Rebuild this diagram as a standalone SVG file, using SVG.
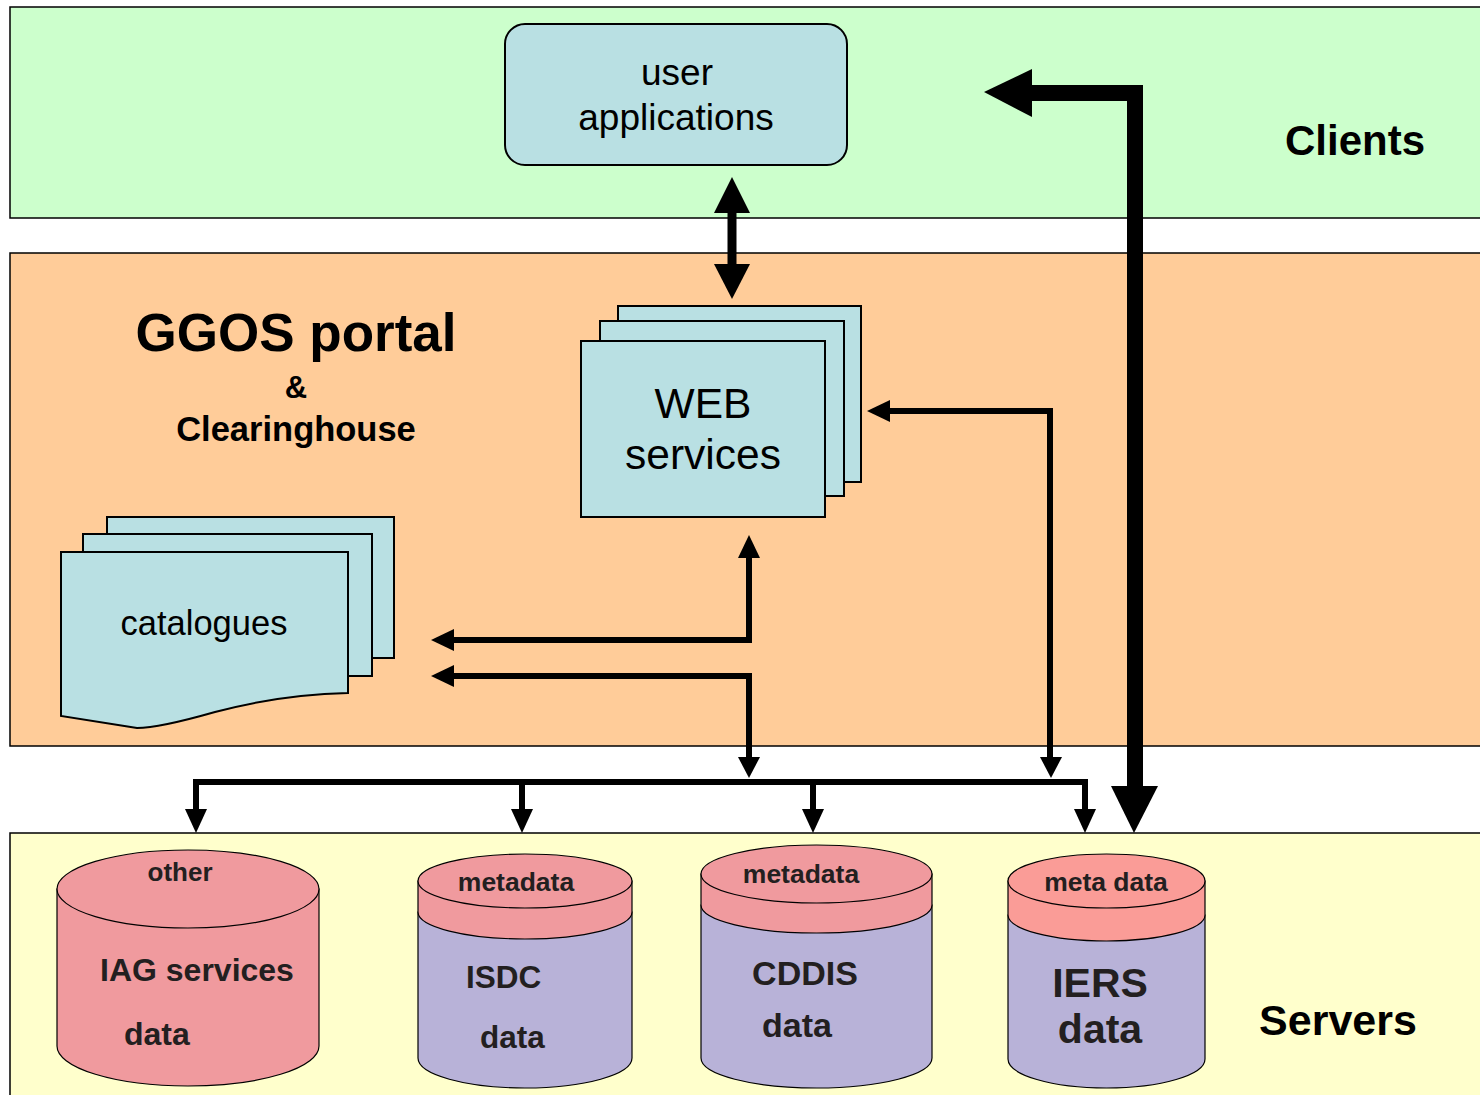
<svg xmlns="http://www.w3.org/2000/svg" width="1480" height="1095" viewBox="0 0 1480 1095">
<style>
.band{stroke:#000;stroke-width:1.5}
.box{fill:#B9E0E3;stroke:#000;stroke-width:2}
.t{font-family:"Liberation Sans",Arial,sans-serif;fill:#000;text-anchor:middle}
.b{font-weight:bold}
.cyl{stroke:#000;stroke-width:1.2}
.pink{fill:#F09A9E}
.salmon{fill:#FA9C97}
.purp{fill:#B8B2D8}
.ln{fill:none;stroke:#000;stroke-width:6}
.ah{fill:#000}
.ct{font-family:"Liberation Sans",Arial,sans-serif;font-weight:bold;fill:#231F20}
</style>
<rect width="1480" height="1095" fill="#fff"/>
<g id="bands">
<rect class="band" x="10" y="7" width="1480" height="211" fill="#CCFFCC"/>
<rect class="band" x="10" y="253" width="1480" height="493" fill="#FFCC99"/>
<rect class="band" x="10" y="833" width="1480" height="280" fill="#FFFFCC"/>
</g>
<g id="labels">
<text class="t b" x="1355" y="155" font-size="42">Clients</text>
<text class="t b" x="1338" y="1035" font-size="43">Servers</text>
<text class="t b" x="296" y="351" font-size="53">GGOS portal</text>
<text class="t b" x="296" y="398" font-size="31">&amp;</text>
<text class="t b" x="296" y="441" font-size="34.5">Clearinghouse</text>
</g>
<g id="user-applications">
<rect class="box" x="505" y="24" width="342" height="141" rx="20"/>
<text class="t" x="677" y="85" font-size="37">user</text>
<text class="t" x="676" y="130" font-size="37">applications</text>
</g>
<g id="web-services">
<rect class="box" x="618" y="306" width="243" height="176"/>
<rect class="box" x="600" y="321" width="244" height="175"/>
<rect class="box" x="581" y="341" width="244" height="176"/>
<text class="t" x="703" y="418" font-size="42.5">WEB</text>
<text class="t" x="703" y="469" font-size="42.5">services</text>
</g>
<g id="catalogues">
<rect class="box" x="107" y="517" width="287" height="141"/>
<rect class="box" x="83" y="534" width="289" height="142"/>
<path class="box" d="M61,552 H348 V693 C300,694 260,700 215,712 C180,722 155,728 137,728 L61,716 Z"/>
<text class="t" x="204" y="635" font-size="34.5">catalogues</text>
</g>
<g id="other-iag">
<path class="cyl pink" d="M57,889 V1046 A131,40 0 0 0 319,1046 V889 Z"/>
<ellipse class="cyl pink" cx="188" cy="889" rx="131" ry="39"/>
<text class="ct" x="180" y="881" font-size="26" text-anchor="middle">other</text>
<text class="ct" x="100" y="981" font-size="32">IAG services</text>
<text class="ct" x="124" y="1045" font-size="32">data</text>
</g>
<g id="isdc">
<path class="cyl purp" d="M418,912 V1058 A107,30 0 0 0 632,1058 V912 Z"/>
<path class="cyl pink" d="M418,881 V912 A107,27 0 0 0 632,912 V881 Z"/>
<ellipse class="cyl pink" cx="525" cy="881" rx="107" ry="27"/>
<text class="ct" x="516" y="891" font-size="26.5" text-anchor="middle">metadata</text>
<text class="ct" x="466" y="988" font-size="31.5">ISDC</text>
<text class="ct" x="480" y="1048" font-size="31.5">data</text>
</g>
<g id="cddis">
<path class="cyl purp" d="M701,905 V1058 A115.5,30 0 0 0 932,1058 V905 Z"/>
<path class="cyl pink" d="M701,874 V905 A115.5,28 0 0 0 932,905 V874 Z"/>
<ellipse class="cyl pink" cx="816.5" cy="874" rx="115.5" ry="29"/>
<text class="ct" x="801" y="883" font-size="26.5" text-anchor="middle">metadata</text>
<text class="ct" x="805" y="985" font-size="34" text-anchor="middle">CDDIS</text>
<text class="ct" x="797" y="1037" font-size="34" text-anchor="middle">data</text>
</g>
<g id="iers">
<path class="cyl purp" d="M1008,915 V1059 A98.5,29 0 0 0 1205,1059 V915 Z"/>
<path class="cyl salmon" d="M1008,881 V915 A98.5,26 0 0 0 1205,915 V881 Z"/>
<ellipse class="cyl salmon" cx="1106.5" cy="881" rx="98.5" ry="27"/>
<text class="ct" x="1106" y="891" font-size="26.5" text-anchor="middle">meta data</text>
<text class="ct" x="1100" y="997" font-size="41" text-anchor="middle">IERS</text>
<text class="ct" x="1100" y="1043" font-size="41" text-anchor="middle">data</text>
</g>
<g id="connectors">
<line x1="732" y1="210" x2="732" y2="268" stroke="#000" stroke-width="9"/>
<polygon class="ah" points="732,177 750,213 714,213"/>
<polygon class="ah" points="732,299 750,264 714,264"/>
<path d="M1135,790 V93 H1028" fill="none" stroke="#000" stroke-width="16"/>
<polygon class="ah" points="984,92 1032,69 1032,117"/>
<polygon class="ah" points="1134,833 1111,786 1158,786"/>
<path class="ln" d="M888,411 H1050 V760" stroke-width="5"/>
<polygon class="ah" points="867,411 890,400 890,422"/>
<polygon class="ah" points="1051,778 1040,757 1062,757"/>
<path class="ln" d="M452,640 H749 V556"/>
<polygon class="ah" points="431,640 454,629 454,651"/>
<polygon class="ah" points="749,535 738,558 760,558"/>
<path class="ln" d="M452,676 H749 V760"/>
<polygon class="ah" points="431,676 454,665 454,687"/>
<polygon class="ah" points="749,778 738,757 760,757"/>
<path class="ln" d="M196,812 V782 H1085 V812" stroke-width="7"/>
<line class="ln" x1="522" y1="782" x2="522" y2="812"/>
<line class="ln" x1="813" y1="782" x2="813" y2="812"/>
<polygon class="ah" points="196,833 185,809 207,809"/>
<polygon class="ah" points="522,833 511,809 533,809"/>
<polygon class="ah" points="813,833 802,809 824,809"/>
<polygon class="ah" points="1085,833 1074,809 1096,809"/>
</g>
</svg>
